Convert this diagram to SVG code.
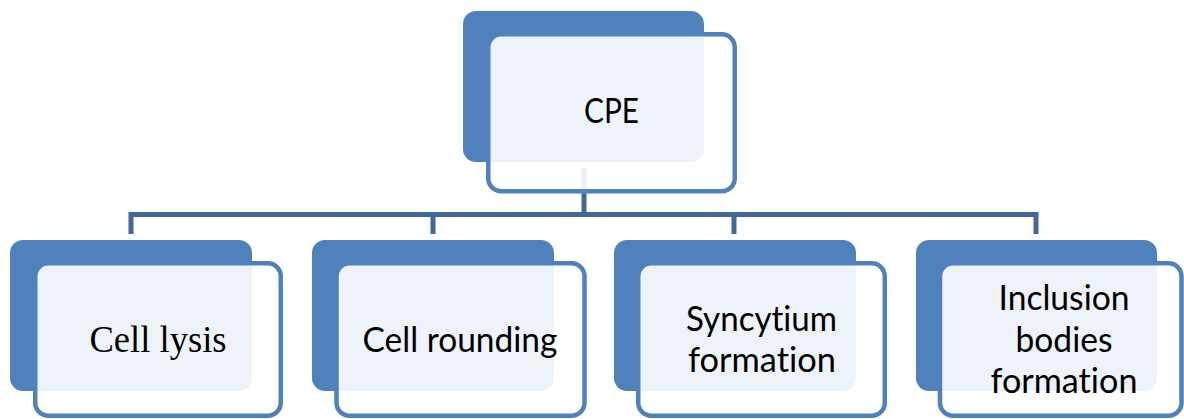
<svg xmlns="http://www.w3.org/2000/svg" width="1184" height="419" viewBox="0 0 1184 419">
<style>
.back{fill:#4F81BD;}
.front{fill:#FFFFFF;fill-opacity:0.9;stroke:#4F81BD;stroke-width:4.5;}
.conn{fill:none;stroke:#41689A;stroke-width:5;stroke-linejoin:miter;stroke-linecap:butt;}
.lbl{font-family:Lato,"Open Sans","Liberation Sans",sans-serif;font-size:34px;fill:#000;text-anchor:middle;font-variant-ligatures:none;font-feature-settings:"liga" 0,"clig" 0,"dlig" 0;}
.ser{font-family:"Liberation Serif","Times New Roman",serif;font-size:37px;fill:#000;text-anchor:middle;}
</style>
<rect width="1184" height="419" fill="#FFFFFF"/>
<g id="connectors">
<path class="conn" d="M131,234 V214.5 H1036 V234"/>
<path class="conn" d="M433,214.5 V234"/>
<path class="conn" d="M734,214.5 V234"/>
<path class="conn" d="M584,168 V214.5"/>
</g>
<g id="node-cpe">
<rect class="back" x="463" y="11" width="241" height="151" rx="13"/>
<rect class="front" x="488.25" y="34.25" width="246.5" height="157" rx="13"/>
<text class="lbl" x="611.5" y="123" textLength="55" lengthAdjust="spacingAndGlyphs">CPE</text>
</g>
<g id="node-lysis">
<rect class="back" x="10" y="240" width="242" height="151" rx="13"/>
<rect class="front" x="35.25" y="263.25" width="245.5" height="152.5" rx="13"/>
<text class="ser" x="158" y="352" textLength="137" lengthAdjust="spacingAndGlyphs">Cell lysis</text>
</g>
<g id="node-rounding">
<rect class="back" x="312" y="240" width="242" height="151" rx="13"/>
<rect class="front" x="336.5" y="263.25" width="248" height="152.5" rx="13"/>
<text class="lbl" x="460" y="352" textLength="195" lengthAdjust="spacingAndGlyphs">Cell rounding</text>
</g>
<g id="node-syncytium">
<rect class="back" x="614" y="240" width="242" height="151" rx="13"/>
<rect class="front" x="638.25" y="263.25" width="246.5" height="152.5" rx="13"/>
<text class="lbl" x="761.5" y="331" textLength="151" lengthAdjust="spacingAndGlyphs">Syncytium</text>
<text class="lbl" x="762" y="372" textLength="148" lengthAdjust="spacingAndGlyphs">formation</text>
</g>
<g id="node-inclusion">
<rect class="back" x="916" y="240" width="241" height="151" rx="13"/>
<rect class="front" x="940" y="263.25" width="241.5" height="152.5" rx="13"/>
<text class="lbl" x="1064" y="310" textLength="131" lengthAdjust="spacingAndGlyphs">Inclusion</text>
<text class="lbl" x="1064" y="352" textLength="97" lengthAdjust="spacingAndGlyphs">bodies</text>
<text class="lbl" x="1064" y="393" textLength="147" lengthAdjust="spacingAndGlyphs">formation</text>
</g>
</svg>
